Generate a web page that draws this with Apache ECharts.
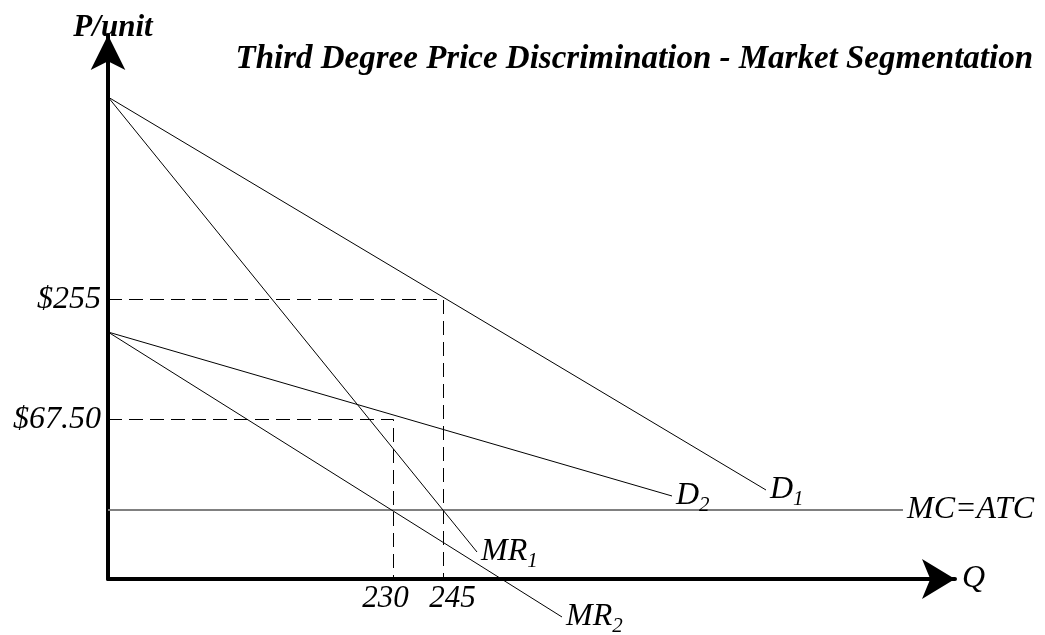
<!doctype html>
<html lang="en">
<head>
    <meta charset="UTF-8">
    <title>Third Degree Price Discrimination</title>
    <script src="https://cdn.jsdelivr.net/npm/echarts@6/dist/echarts.min.js"></script>
    <style>
        html, body { margin: 0; padding: 0; background: #fff; }
        #chart { width: 1045px; height: 635px; }
    </style>
</head>
<body>
<div id="chart"></div>
<script type="text/javascript">
    // drawing units: Q along the bottom, P up the side (the diagram has no real scale)
    var qMax = 847;
    var pMax = 544;

    // curves, [Q, P] end points
    var d1 = [[0, 482], [658, 89]];
    var mr1 = [[0, 482], [369, 27]];
    var d2 = [[0, 247], [564, 83]];
    var mr2 = [[0, 247], [454, -38]];
    var mc = [[0, 69], [795, 69]];

    // dashed guides: price level -> quantity -> axis
    var guide1 = [[0, 279.5], [335.5, 279.5], [335.5, 0]];
    var guide2 = [[0, 159.5], [285.5, 159.5], [285.5, 0]];

    // tick labels
    var qTicks = [285.5, 335.5];
    var qLabels = ['230', '245'];
    var pTicks = [279.5, 159.5];
    var pLabels = ['$255', '$67.50'];

    var serif = '"Liberation Serif", "Times New Roman", serif';
    var subRich = {
        b: { fontFamily: serif, fontStyle: 'italic', fontSize: 32, lineHeight: 32, verticalAlign: 'top', color: '#000' },
        s: { fontFamily: serif, fontStyle: 'italic', fontSize: 21, lineHeight: 21, verticalAlign: 'top', padding: [15, 0, 0, 0], color: '#000' }
    };

    var curve = function (data, text, color, width) {
        return {
            type: 'line',
            data: data,
            symbol: 'none',
            clip: false,
            silent: true,
            lineStyle: { color: color, width: width },
            endLabel: {
                show: true,
                distance: 4,
                formatter: function () { return text; },
                rich: subRich
            }
        };
    };

    var guide = function (data) {
        return {
            type: 'line',
            data: data,
            symbol: 'none',
            silent: true,
            lineStyle: { color: '#000', width: 1, type: [14, 7] }
        };
    };

    var myChart = echarts.init(document.getElementById('chart'));
    var option = {
        animation: false,
        backgroundColor: '#fff',
        title: {
            text: 'Third Degree Price Discrimination - Market Segmentation',
            right: 12,
            top: 43,
            padding: 0,
            textStyle: { fontFamily: serif, fontStyle: 'italic', fontWeight: 'bold', fontSize: 33, color: '#000' }
        },
        grid: { left: 108, right: 90, top: 35, bottom: 56 },
        xAxis: {
            type: 'value',
            min: 0,
            max: qMax,
            name: 'Q',
            nameLocation: 'end',
            nameGap: 7,
            nameTextStyle: { fontFamily: serif, fontStyle: 'italic', fontSize: 32, color: '#000' },
            axisLine: { show: true, symbol: ['none', 'arrow'], symbolSize: [30, 33], lineStyle: { color: '#000', width: 4 } },
            axisTick: { show: false },
            splitLine: { show: false },
            axisLabel: {
                customValues: qTicks,
                margin: 4,
                fontFamily: serif, fontStyle: 'italic', fontSize: 31, color: '#000',
                // the two quantity labels sit a little apart from their guide lines
                formatter: function (v) {
                    var i = qTicks.indexOf(v);
                    return (i === 0 ? '{l|' : '{r|') + qLabels[i] + '}';
                },
                rich: {
                    l: { fontFamily: serif, fontStyle: 'italic', fontSize: 31, color: '#000', padding: [0, 16, 0, 0] },
                    r: { fontFamily: serif, fontStyle: 'italic', fontSize: 31, color: '#000', padding: [0, 0, 0, 18] }
                }
            }
        },
        yAxis: {
            type: 'value',
            min: 0,
            max: pMax,
            name: 'P/unit',
            nameLocation: 'end',
            nameGap: -8,
            nameTextStyle: { fontFamily: serif, fontStyle: 'italic', fontWeight: 'bold', fontSize: 31, color: '#000', align: 'center', padding: [0, 0, 0, 10] },
            axisLine: { show: true, symbol: ['none', 'arrow'], symbolSize: [26, 35], lineStyle: { color: '#000', width: 4 } },
            axisTick: { show: false },
            splitLine: { show: false },
            axisLabel: {
                customValues: pTicks,
                margin: 7,
                fontFamily: serif, fontStyle: 'italic', fontSize: 32, color: '#000',
                formatter: function (v) { return pLabels[pTicks.indexOf(v)]; }
            }
        },
        series: [
            guide(guide1),
            guide(guide2),
            curve(mc, '{b|MC=ATC}', '#808080', 2),
            curve(d1, '{b|D}{s|1}', '#000', 1),
            curve(mr1, '{b|MR}{s|1}', '#000', 1),
            curve(d2, '{b|D}{s|2}', '#000', 1),
            curve(mr2, '{b|MR}{s|2}', '#000', 1)
        ]
    };
    myChart.setOption(option);
</script>
</body>
</html>
